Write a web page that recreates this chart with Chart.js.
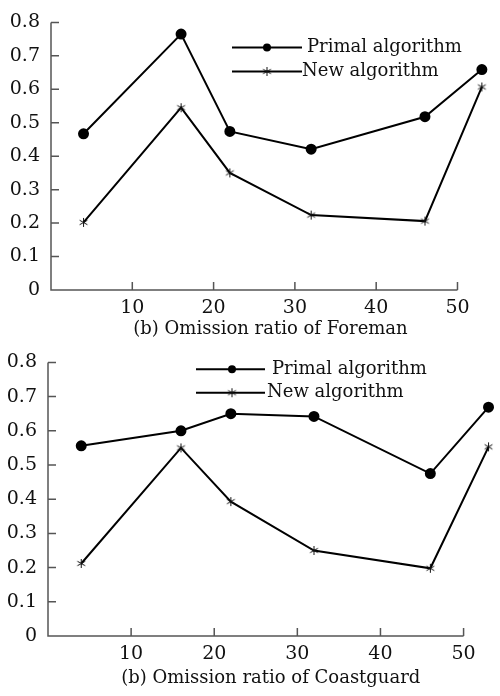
<!DOCTYPE html>
<html>
<head>
<meta charset="utf-8">
<script src="https://cdn.jsdelivr.net/npm/chart.js@4.4.1/dist/chart.umd.min.js"></script>
<style>
  html, body { margin: 0; padding: 0; background: #fff; }
  #wrap { position: relative; width: 500px; height: 696px; }
  .box { position: absolute; left: 0; width: 500px; }
  #box1 { top: 0; height: 340px; }
  #box2 { top: 340px; height: 356px; }
</style>
</head>
<body>
<div id="wrap">
  <div class="box" id="box1"><canvas id="graf1"></canvas></div>
  <div class="box" id="box2"><canvas id="graf2"></canvas></div>
</div>
<script>
// dados
const omissionX = [4, 16, 22, 32, 46, 53];
const foremanPrimal = [0.467, 0.765, 0.474, 0.421, 0.518, 0.659];
const foremanNew = [0.202, 0.545, 0.350, 0.224, 0.206, 0.607];
const coastPrimal = [0.556, 0.600, 0.650, 0.642, 0.475, 0.669];
const coastNew = [0.212, 0.550, 0.393, 0.250, 0.198, 0.553];
const seriesNames = ['Primal algorithm', 'New algorithm'];
const xTicks = [10, 20, 30, 40, 50];
const yTicks = [0, 0.1, 0.2, 0.3, 0.4, 0.5, 0.6, 0.7, 0.8];
const titles = ['(b) Omission ratio of Foreman', '(b) Omission ratio of Coastguard'];

Chart.defaults.font.family = "'DejaVu Serif', serif";
Chart.defaults.color = '#111';

// marcador asterisco de 6 pontas
function makeStar() {
    const c = document.createElement('canvas');
    c.width = 11; c.height = 11;
    const g = c.getContext('2d');
    g.strokeStyle = '#111';
    g.lineWidth = 1;
    for (let k = 0; k < 3; k++) {
        const a = Math.PI / 2 + k * Math.PI / 3;
        g.beginPath();
        g.moveTo(5.5 - 4.5 * Math.cos(a), 5.5 - 4.5 * Math.sin(a));
        g.lineTo(5.5 + 4.5 * Math.cos(a), 5.5 + 4.5 * Math.sin(a));
        g.stroke();
    }
    return c;
}
const star = makeStar();

// eixos com ticks para dentro
const axesPlugin = {
    id: 'axesDraw',
    beforeDatasetsDraw(chart) {
        const { ctx, scales: { x, y } } = chart;
        const x0 = x.getPixelForValue(0);
        const y0 = y.getPixelForValue(0);
        ctx.save();
        ctx.strokeStyle = '#555';
        ctx.lineWidth = 1.5;
        ctx.beginPath();
        ctx.moveTo(x0, y.getPixelForValue(yTicks[yTicks.length - 1]));
        ctx.lineTo(x0, y0);
        ctx.lineTo(x.getPixelForValue(xTicks[xTicks.length - 1]), y0);
        yTicks.forEach(v => {
            const py = y.getPixelForValue(v);
            ctx.moveTo(x0, py);
            ctx.lineTo(x0 + 8, py);
        });
        xTicks.forEach(v => {
            const px = x.getPixelForValue(v);
            ctx.moveTo(px, y0);
            ctx.lineTo(px, y0 - 8);
        });
        ctx.stroke();
        ctx.restore();
    }
};

// legenda desenhada
const legendPlugin = {
    id: 'legendDraw',
    afterDraw(chart) {
        const opt = chart.options.plugins.legendDraw;
        const { ctx } = chart;
        ctx.save();
        ctx.font = "18px 'DejaVu Serif'";
        ctx.fillStyle = '#111';
        ctx.textBaseline = 'middle';
        chart.data.datasets.forEach((ds, i) => {
            const ly = opt.rows[i];
            ctx.strokeStyle = '#000';
            ctx.lineWidth = 2;
            ctx.beginPath();
            ctx.moveTo(opt.x0, ly);
            ctx.lineTo(opt.x1, ly);
            ctx.stroke();
            if (i === 0) {
                ctx.beginPath();
                ctx.arc(opt.mx, ly, 4, 0, Math.PI * 2);
                ctx.fillStyle = '#000';
                ctx.fill();
                ctx.fillStyle = '#111';
            } else {
                ctx.drawImage(star, opt.mx - 5.5, ly - 5.5);
            }
            ctx.fillText(ds.label, opt.textX[i], ly);
        });
        ctx.restore();
    }
};

function criarGrafico(id, primal, novo, title, cfg) {
    return new Chart(document.getElementById(id), {
        type: 'line',
        data: {
            datasets: [{
                label: seriesNames[0],
                data: omissionX.map((v, i) => ({ x: v, y: primal[i] })),
                borderColor: '#000',
                backgroundColor: '#000',
                borderWidth: 2,
                pointRadius: 4.5,
                pointStyle: 'circle',
                clip: false
            }, {
                label: seriesNames[1],
                data: omissionX.map((v, i) => ({ x: v, y: novo[i] })),
                borderColor: '#000',
                backgroundColor: '#000',
                borderWidth: 2,
                pointStyle: star,
                clip: false
            }]
        },
        options: {
            responsive: true,
            maintainAspectRatio: false,
            animation: false,
            layout: { padding: cfg.padding },
            scales: {
                x: {
                    type: 'linear',
                    min: 0,
                    max: cfg.xMax,
                    grid: { display: false, drawTicks: false },
                    border: { display: false },
                    afterBuildTicks: s => { s.ticks = xTicks.map(v => ({ value: v })); },
                    afterFit: s => { s.height = cfg.xHeight; },
                    ticks: { padding: 7, font: { size: 19 }, maxRotation: 0 },
                    title: {
                        display: true,
                        text: title,
                        font: { size: 18 },
                        padding: { top: 0, bottom: 0 }
                    }
                },
                y: {
                    min: 0,
                    max: 0.8,
                    grid: { display: false, drawTicks: false },
                    border: { display: false },
                    afterBuildTicks: s => { s.ticks = yTicks.map(v => ({ value: v })); },
                    afterFit: s => { s.width = cfg.yWidth; },
                    ticks: {
                        padding: 11,
                        font: { size: 19 },
                        callback: v => v === 0 ? '0' : v.toFixed(1)
                    }
                }
            },
            plugins: {
                legend: { display: false },
                tooltip: { enabled: false },
                legendDraw: cfg.legend
            }
        },
        plugins: [axesPlugin, legendPlugin]
    });
}

criarGrafico('graf1', foremanPrimal, foremanNew, titles[0], {
    padding: { top: 16, right: 10, bottom: 0, left: 0 },
    xMax: 54, xHeight: 50, yWidth: 51,
    legend: { x0: 232, x1: 302, mx: 267, rows: [47.5, 71.5], textX: [307, 302] }
});
criarGrafico('graf2', coastPrimal, coastNew, titles[1], {
    padding: { top: 16, right: 2, bottom: 7, left: 0 },
    xMax: 53.6, xHeight: 53, yWidth: 48,
    legend: { x0: 196, x1: 265, mx: 232, rows: [29.3, 52.7], textX: [272, 267] }
});
</script>
</body>
</html>
